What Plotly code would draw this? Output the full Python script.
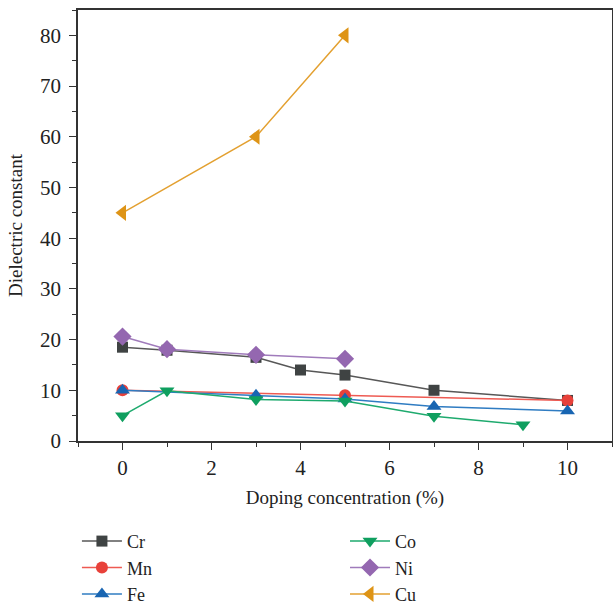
import plotly.graph_objects as go

cr_x = [0, 1, 3, 4, 5, 7, 10]
cr_y = [18.5, 17.9, 16.5, 14.0, 13.0, 10.0, 8.0]
mn_x = [0, 5, 10]
mn_y = [10.0, 9.0, 8.0]
fe_x = [0, 3, 5, 7, 10]
fe_y = [10.0, 9.0, 8.3, 6.8, 5.9]
co_x = [0, 1, 3, 5, 7, 9]
co_y = [5.0, 9.9, 8.2, 7.9, 4.9, 3.2]
ni_x = [0, 1, 3, 5]
ni_y = [20.6, 18.1, 17.0, 16.2]
cu_x = [0, 3, 5]
cu_y = [45, 60, 80]

series = [
    ("Cr", cr_x, cr_y, "#575757", "#3f4343", "square", 11, "legend"),
    ("Mn", mn_x, mn_y, "#ee5a52", "#e8413a", "circle", 12, "legend"),
    ("Fe", fe_x, fe_y, "#2f7cc2", "#1865b2", "triangle-up", 13, "legend"),
    ("Co", co_x, co_y, "#1eaa6e", "#0f9f5f", "triangle-down", 13, "legend2"),
    ("Ni", ni_x, ni_y, "#a07bbb", "#9467b0", "diamond", 14, "legend2"),
    ("Cu", cu_x, cu_y, "#e3a030", "#de9416", "triangle-left", 14, "legend2"),
]

FONT = "Liberation Serif"
fig = go.Figure()
for name, xs, ys, lc, mc, sym, sz, lg in series:
    fig.add_trace(go.Scatter(
        x=xs, y=ys, name=name, mode="lines+markers",
        line=dict(color=lc, width=1.5),
        marker=dict(color=mc, symbol=sym, size=sz, line=dict(width=0)),
        legend=lg, legendgroup=name,
    ))

axis_common = dict(
    showline=True, linecolor="#333", linewidth=1.5, mirror=True,
    ticks="outside", ticklen=7, tickwidth=1.3, tickcolor="#333",
    showgrid=False, zeroline=False, automargin=False,
    tickfont=dict(family=FONT, size=21, color="#222"),
)
fig.update_xaxes(range=[-1, 11], dtick=2, tick0=0,
                 minor=dict(dtick=1, ticks="outside", ticklen=4, tickcolor="#333", tickwidth=1.2),
                 title=dict(text="Doping concentration (%)", font=dict(family=FONT, size=19, color="#222"), standoff=12),
                 **axis_common)
fig.update_yaxes(range=[0, 85], dtick=10, tick0=0,
                 minor=dict(dtick=5, ticks="outside", ticklen=4, tickcolor="#333", tickwidth=1.2),
                 title=dict(text="Dielectric constant", font=dict(family=FONT, size=19, color="#222"), standoff=12),
                 ticklabelstandoff=4,
                 **axis_common)

leg_common = dict(
    font=dict(family=FONT, size=18, color="#222"),
    bgcolor="rgba(0,0,0,0)", yanchor="top", y=-0.19, xanchor="left",
    traceorder="grouped", tracegroupgap=0, itemwidth=40,
)
fig.update_layout(
    width=613, height=606,
    margin=dict(l=78, r=1, t=10, b=165, autoexpand=False),
    plot_bgcolor="white", paper_bgcolor="white",
    legend=dict(x=-0.002, **leg_common),
    legend2=dict(x=0.5, **leg_common),
)
fig.write_html("out.html", config={"displayModeBar": False},
               post_script="document.body.style.margin='0';")
